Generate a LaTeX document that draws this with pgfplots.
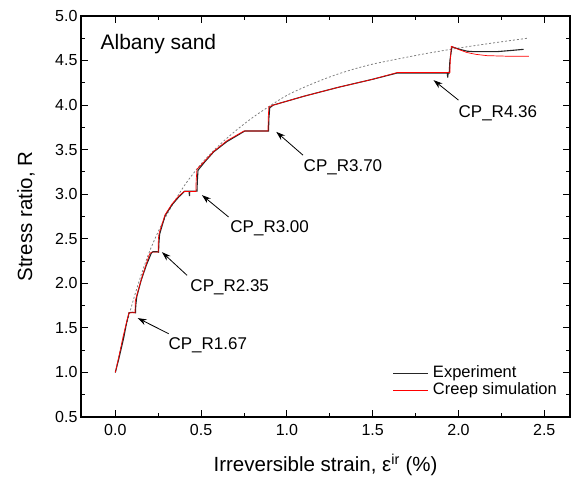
\documentclass[border=0pt]{standalone}
\usepackage{fontspec}
\setmainfont{Liberation Sans}
\usepackage{pgfplots}
\pgfplotsset{compat=1.18}
\usetikzlibrary{arrows.meta}
\begin{document}
\begin{tikzpicture}
\path[use as bounding box] (-81pt,-62pt) rectangle (494pt,417pt);
\begin{axis}[
  scale only axis, width=489pt, height=401pt,
  at={(0,0)}, anchor=south west,
  xmin=-0.2, xmax=2.65, ymin=0.5, ymax=5.0,
  xtick={0,0.5,1.0,1.5,2.0,2.5}, ytick={0.5,1.0,...,5.0},
  minor x tick num=1, minor y tick num=1,
  tick pos=both, tick align=inside,
  major tick length=7pt, minor tick length=4pt,
  every tick/.style={black, line width=1pt},
  axis line style={line width=1.2pt},
  /pgf/number format/assume math mode=true,
  /pgf/number format/.cd, fixed, fixed zerofill, precision=1, /pgfplots/.cd,
  tick label style={font=\fontsize{16}{19}\selectfont},
  xticklabel style={yshift=-4pt},
  xlabel={Irreversible strain, ε\textsuperscript{ir} (\%)},
  ylabel={Stress ratio, R},
  label style={font=\fontsize{20.5}{24}\selectfont},
  xlabel style={at={(axis description cs:0.5,-0.137)}, anchor=base},
  ylabel style={at={(axis description cs:-0.1,0.5)}, anchor=base},
  legend style={draw=none, fill=none, at={(1,0)}, anchor=south east, xshift=-10pt, yshift=17pt,
    font=\fontsize{16.5}{19}\selectfont, row sep=2pt,
    nodes={inner sep=0pt, text height=12pt, text depth=3pt}, column sep=4pt},
  legend cell align=left,
  legend image code/.code={\draw[#1] (0pt,0pt) -- (35pt,0pt);},
]
\addplot[gray, line width=0.8pt, dash pattern=on 2pt off 2pt, forget plot, smooth] coordinates {
(0,1.0) (0.05,1.42) (0.1,1.78) (0.15,2.09) (0.2,2.36) (0.25,2.58) (0.3,2.77) (0.4,3.09) (0.5,3.34) (0.6,3.54) (0.7,3.71) (0.8,3.86) (0.9,3.99) (1.0,4.11) (1.1,4.2) (1.2,4.28) (1.3,4.35) (1.4,4.41) (1.5,4.46) (1.6,4.5) (1.8,4.575) (2.0,4.64) (2.2,4.697) (2.4,4.75)
};
\addplot[black!85, line width=1.1pt] coordinates {
(0,1.0) (0.02,1.15) (0.048,1.38) (0.065,1.55) (0.08,1.67) (0.1,1.675) (0.118,1.67) (0.119,1.75) (0.125,1.85) (0.15,2.03) (0.18,2.2) (0.21,2.34) (0.22,2.355) (0.245,2.355) (0.252,2.35) (0.254,2.45) (0.258,2.55) (0.29,2.76) (0.33,2.88) (0.37,2.97) (0.405,3.035) (0.43,3.035) (0.432,2.98) (0.434,3.035) (0.476,3.035) (0.478,3.15) (0.482,3.27) (0.52,3.36) (0.573,3.475) (0.65,3.59) (0.755,3.71) (0.893,3.71) (0.895,3.85) (0.9,3.97) (0.92,4.0) (1.1,4.1) (1.3,4.2) (1.5,4.29) (1.642,4.36) (1.935,4.36) (1.937,4.31) (1.94,4.36) (1.946,4.36) (1.95,4.5) (1.962,4.655) (2.0,4.63) (2.05,4.605) (2.088,4.6) (2.15,4.6) (2.224,4.6) (2.3,4.612) (2.38,4.626)
};
\addlegendentry{Experiment}
\addplot[red, line width=0.7pt] coordinates {
(0,1.0) (0.02,1.17) (0.045,1.40) (0.07,1.6) (0.08,1.67) (0.115,1.67) (0.116,1.80) (0.13,1.9) (0.16,2.1) (0.2,2.33) (0.21,2.35) (0.25,2.35) (0.251,2.5) (0.255,2.56) (0.29,2.77) (0.33,2.89) (0.37,2.98) (0.4,3.03) (0.47,3.03) (0.471,3.15) (0.476,3.28) (0.52,3.37) (0.573,3.48) (0.65,3.6) (0.75,3.71) (0.89,3.71) (0.891,3.85) (0.895,3.98) (0.92,4.0) (1.1,4.1) (1.3,4.2) (1.5,4.29) (1.642,4.365) (1.95,4.365) (1.952,4.5) (1.958,4.66) (2.0,4.625) (2.05,4.59) (2.1,4.57) (2.166,4.555) (2.3,4.548) (2.41,4.548)
};
\addlegendentry{Creep simulation}
\node[anchor=west, inner sep=0pt, font=\fontsize{21}{24}\selectfont] at (axis cs:-0.087,4.69) {Albany sand};
\begin{scope}[every node/.style={anchor=west, inner sep=0pt, font=\fontsize{17}{20}\selectfont}]
\node at (axis cs:0.309,1.303) {CP\_R1.67};
\node at (axis cs:0.437,1.96) {CP\_R2.35};
\node at (axis cs:0.670,2.615) {CP\_R3.00};
\node at (axis cs:1.097,3.307) {CP\_R3.70};
\node at (axis cs:2.0,3.91) {CP\_R4.36};
\end{scope}
\begin{scope}[-{Stealth[length=9pt,width=6pt]}, line width=0.8pt]
\draw (axis cs:0.311,1.435) -- (axis cs:0.130,1.61);
\draw (axis cs:0.418,2.09) -- (axis cs:0.272,2.35);
\draw (axis cs:0.660,2.745) -- (axis cs:0.505,2.99);
\draw (axis cs:1.094,3.438) -- (axis cs:0.938,3.70);
\draw (axis cs:2.0,4.056) -- (axis cs:1.855,4.28);
\end{scope}
\end{axis}
\end{tikzpicture}
\end{document}
